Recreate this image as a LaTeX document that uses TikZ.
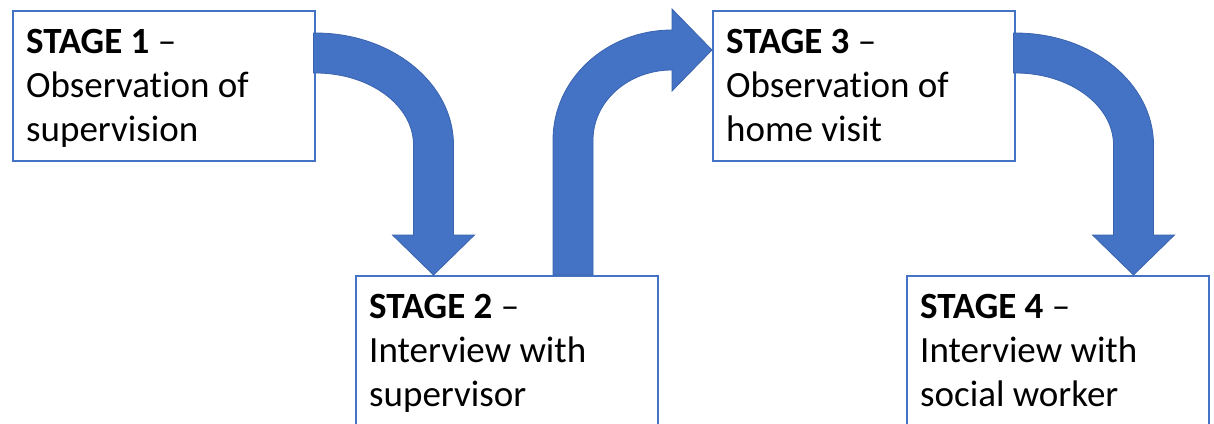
\documentclass[tikz,border=0pt]{standalone}
\usepackage{fontspec}
\setmainfont[Ligatures=NoCommon]{Carlito}
\usetikzlibrary{positioning}
\definecolor{officeblue}{HTML}{4472C4}
\definecolor{officeline}{HTML}{3A63AE}

\begin{document}
\begin{tikzpicture}[
    x=1pt, y=-1pt,
    stagebox/.style={rectangle, draw=officeblue, line width=1.5pt, fill=white,
        minimum width=302pt, minimum height=150pt, inner sep=0pt,
        anchor=north west},
    stagetext/.style={anchor=north west, align=left, inner sep=0pt,
        font=\fontsize{37}{44}\selectfont},
    bendarrow/.style={fill=officeblue, draw=officeline, line width=0.8pt},
]
\clip (0,0) rectangle (1214,423);

% the four stages
\node[stagebox] (s1) at (12,10) {};
\node[stagebox] (s2) at (355,275) {};
\node[stagebox] (s3) at (712,10) {};
\node[stagebox] (s4) at (906,275) {};

\node[stagetext] (t1) at ([shift={(14,19)}]s1.north west)
    {\textbf{STAGE 1} –\\Observation of\\supervision};
\node[stagetext] (t2) at ([shift={(14,19)}]s2.north west)
    {\textbf{STAGE 2} –\\Interview with\\supervisor};
\node[stagetext] (t3) at ([shift={(14,19)}]s3.north west)
    {\textbf{STAGE 3} –\\Observation of\\home visit};
\node[stagetext] (t4) at ([shift={(14,19)}]s4.north west)
    {\textbf{STAGE 4} –\\Interview with\\social worker};

% curved block arrows, right then down
\foreach \s in {s1,s3}
  \draw[bendarrow, shift={(\s.north east)}]
    (-2,23) -- (0,23) .. controls (76.2,23) and (138,73.1) .. (138,135)
    -- (138,225) -- (159,225) -- (118,265) -- (77,225) -- (98,225) -- (98,135)
    .. controls (98,95.2) and (54.1,63) .. (0,63) -- (-2,63) -- cycle;

% up then right, from stage 2 to stage 3
\draw[bendarrow, shift={(s2.north west)}]
  (198,0) -- (198,-135) .. controls (198,-195.8) and (251.3,-245) .. (317,-245)
  -- (317,-266) -- (357,-225) -- (317,-184) -- (317,-205)
  .. controls (273.4,-205) and (238,-173.7) .. (238,-135) -- (238,0) -- cycle;
\end{tikzpicture}
\end{document}
